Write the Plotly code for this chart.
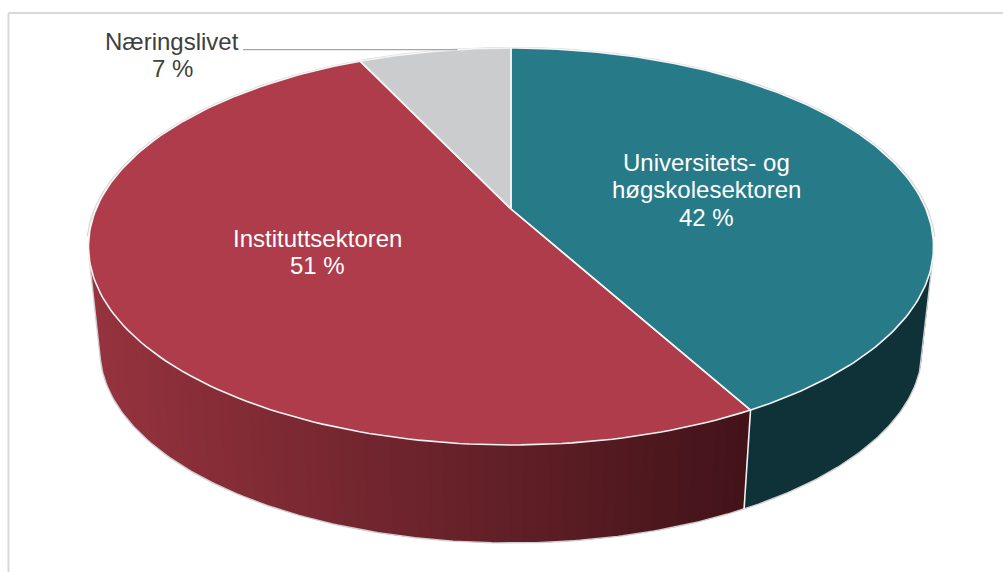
import math
import numpy as np
import plotly.graph_objects as go

# Sectors, clockwise from twelve o'clock
sectors = [["Universitets- og", "høgskolesektoren"], ["Instituttsektoren"], ["Næringslivet"]]
shares = [42, 51, 7]
top_colors = ["#277b89", "#ae3c4a", "#cbccce"]
blue_wall = "#0f3238"
red_wall_left = (150, 51, 62)
red_wall_right = (66, 19, 25)

WIDTH, HEIGHT = 1003, 572

# Perspective disc: centre on screen, half axes and foreshortening
CX, CY = 511.0, 209.0
AX, AY, K = 414.9, 191.4, 0.1889
# Lower face of the disc relative to the upper one
DEPTH_SCALE, DEPTH_Y = 0.973, 313.4


def project(theta, r=1.0, lower=False):
    """Disc angle (radians, clockwise from top) to plot coordinates."""
    theta = np.asarray(theta, dtype=float)
    sx = r * np.sin(theta)
    sy = -r * np.cos(theta)
    w = 1 - K * sy
    x, y = AX * sx / w, AY * sy / w
    if lower:
        return CX + DEPTH_SCALE * x, DEPTH_Y + DEPTH_SCALE * y
    return CX + x, CY + y


def silhouette_angle():
    """Angle where the upper and lower rims share a tangent on the right side."""
    th = np.radians(np.linspace(85, 150, 1301))
    tx, ty = project(th)
    bx, by = project(th, lower=True)
    dx, dy = np.gradient(tx), np.gradient(ty)
    cross = np.abs((bx - tx) * dy - (by - ty) * dx)
    return float(th[np.argmin(cross)])


def poly(fig, x, y, fill):
    fig.add_trace(go.Scatter(
        x=list(x), y=list(y), mode="lines", fill="toself", fillcolor=fill,
        line=dict(color=fill, width=0), hoverinfo="skip", showlegend=False,
    ))


def stroke(fig, x, y, color, width):
    fig.add_trace(go.Scatter(
        x=list(x), y=list(y), mode="lines", line=dict(color=color, width=width),
        hoverinfo="skip", showlegend=False,
    ))


edges = np.cumsum([0] + shares) / sum(shares) * 2 * math.pi
fig = go.Figure()

# Outer wall, visible across the front of the disc
wall_from = silhouette_angle()
wall_to = 2 * math.pi - wall_from
split = edges[1]

th = np.linspace(wall_from, split, 60)
tx, ty = project(th)
bx, by = project(th, lower=True)
poly(fig, np.r_[tx, bx[::-1]], np.r_[ty, by[::-1]], blue_wall)

# Shaded red wall: overlapping bands painted right to left, so no seams show
band_edges = np.linspace(split, wall_to, 70)
step = band_edges[1] - band_edges[0]
x_all = project(band_edges)[0]
x_lo, x_hi = x_all.min(), x_all.max()
for a in band_edges[:-1]:
    b = min(a + 2 * step, wall_to)
    mid_x = project(a + step / 2)[0]
    f = float((mid_x - x_lo) / (x_hi - x_lo))
    rgb = [round(l + (r - l) * f) for l, r in zip(red_wall_left, red_wall_right)]
    seg = np.linspace(a, b, 5)
    tx, ty = project(seg)
    bx, by = project(seg, lower=True)
    poly(fig, np.r_[tx, bx[::-1]], np.r_[ty, by[::-1]], f"rgb({rgb[0]},{rgb[1]},{rgb[2]})")

# Pale edge round the wall silhouette
th = np.linspace(wall_from, wall_to, 240)
bx, by = project(th, lower=True)
tx_s, ty_s = project(th)
stroke(fig, [tx_s[0]] + list(bx) + [tx_s[-1]], [ty_s[0]] + list(by) + [ty_s[-1]], "#d0d0d0", 1.4)

# White seam where the two wall sectors meet
sx0, sy0 = project(split)
sx1, sy1 = project(split, lower=True)
stroke(fig, [sx0, sx1], [sy0, sy1], "#f2f2f2", 1.6)

# Pale halo along the back rim
th = np.linspace(math.radians(262), math.radians(360 + 98), 240)
rx, ry = project(th, r=1.004)
stroke(fig, rx, ry, "#d6d6d6", 1.2)

# Top face of each sector
for i, color in enumerate(top_colors):
    th = np.linspace(edges[i], edges[i + 1], 160)
    x, y = project(th)
    poly(fig, np.r_[CX, x, CX], np.r_[CY, y, CY], color)
for i, color in enumerate(top_colors):
    th = np.linspace(edges[i], edges[i + 1], 160)
    x, y = project(th)
    stroke(fig, np.r_[CX, x, CX], np.r_[CY, y, CY], "#f4f4f4", 1.6)

# Leader line for the small sector
leader_t = edges[2] + (edges[3] - edges[2]) * 0.65
lx, ly = project(leader_t)
stroke(fig, [243, lx], [ly, ly], "#a6a6a6", 1.4)

# Sector labels, one annotation per line to hold the tight line pitch
label_pos = [(706, 162), (317, 238), (172, 41)]
label_col = ["#ffffff", "#ffffff", "#404040"]
LINE_PITCH = 27.5
for name, share, (x, y), col in zip(sectors, shares, label_pos, label_col):
    for row, text in enumerate(name + [f"{share} %"]):
        fig.add_annotation(
            x=x, y=y + row * LINE_PITCH, text=text, showarrow=False,
            xanchor="center", yanchor="middle",
            font=dict(family="Liberation Sans, Arial, sans-serif", size=24, color=col),
        )

# Chart frame, running off the right and bottom of the page
fig.add_shape(type="line", x0=8.5, x1=1003, y0=13, y1=13, line=dict(color="#d9d9d9", width=2))
fig.add_shape(type="line", x0=8.5, x1=8.5, y0=13, y1=572, line=dict(color="#d9d9d9", width=2))

fig.update_layout(
    width=WIDTH, height=HEIGHT, margin=dict(l=0, r=0, t=0, b=0),
    paper_bgcolor="white", plot_bgcolor="white", showlegend=False,
    xaxis=dict(range=[0, WIDTH], visible=False, fixedrange=True),
    yaxis=dict(range=[HEIGHT, 0], visible=False, fixedrange=True),
)
fig.write_html("out.html", config={"displayModeBar": False})
